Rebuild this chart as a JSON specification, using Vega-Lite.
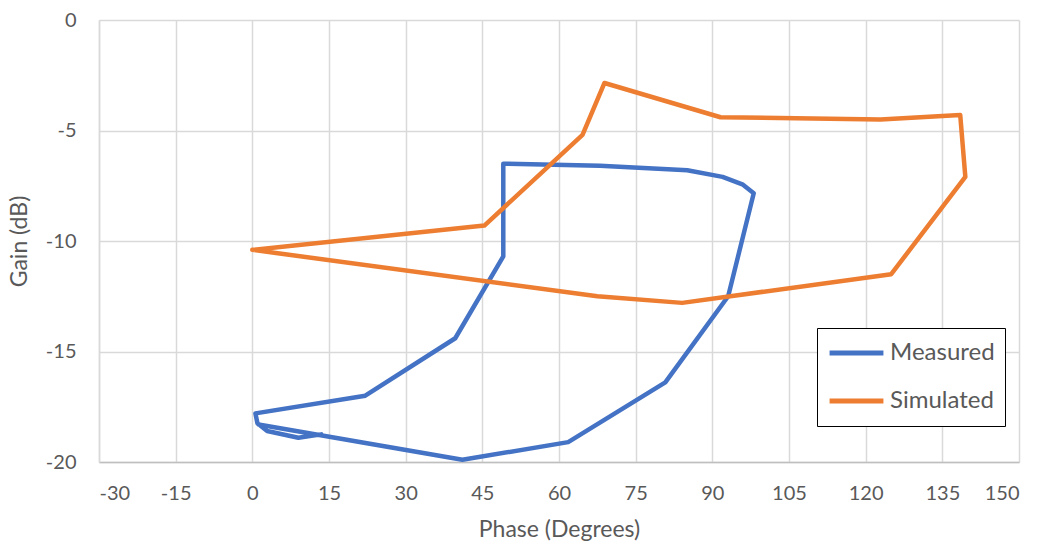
{
  "$schema": "https://vega.github.io/schema/vega-lite/v6.json",
  "autosize": "none",
  "width": 920,
  "height": 442,
  "padding": {"left": 99, "top": 20, "right": 22, "bottom": 83},
  "background": "white",
  "config": {
    "font": "Lato",
    "view": {"stroke": null}
  },
  "data": {
    "values": [
      {"series": "Measured", "i": 0, "phase": 13.5, "gain": -18.75},
      {"series": "Measured", "i": 1, "phase": 9, "gain": -18.9},
      {"series": "Measured", "i": 2, "phase": 2.9, "gain": -18.6},
      {"series": "Measured", "i": 3, "phase": 1.0, "gain": -18.25},
      {"series": "Measured", "i": 4, "phase": 0.6, "gain": -17.8},
      {"series": "Measured", "i": 5, "phase": 22.1, "gain": -17.0},
      {"series": "Measured", "i": 6, "phase": 39.7, "gain": -14.4},
      {"series": "Measured", "i": 7, "phase": 49.1, "gain": -10.7},
      {"series": "Measured", "i": 8, "phase": 49.1, "gain": -6.5},
      {"series": "Measured", "i": 9, "phase": 68, "gain": -6.6},
      {"series": "Measured", "i": 10, "phase": 85.1, "gain": -6.8},
      {"series": "Measured", "i": 11, "phase": 92.0, "gain": -7.1},
      {"series": "Measured", "i": 12, "phase": 96.0, "gain": -7.45},
      {"series": "Measured", "i": 13, "phase": 98.1, "gain": -7.84},
      {"series": "Measured", "i": 14, "phase": 93.1, "gain": -12.5},
      {"series": "Measured", "i": 15, "phase": 80.8, "gain": -16.4},
      {"series": "Measured", "i": 16, "phase": 61.8, "gain": -19.1},
      {"series": "Measured", "i": 17, "phase": 41.1, "gain": -19.9},
      {"series": "Measured", "i": 18, "phase": 1.2, "gain": -18.3},
      {"series": "Simulated", "i": 0, "phase": 0, "gain": -10.4},
      {"series": "Simulated", "i": 1, "phase": 45.4, "gain": -9.3},
      {"series": "Simulated", "i": 2, "phase": 64.6, "gain": -5.2},
      {"series": "Simulated", "i": 3, "phase": 68.9, "gain": -2.85},
      {"series": "Simulated", "i": 4, "phase": 91.6, "gain": -4.4},
      {"series": "Simulated", "i": 5, "phase": 122.9, "gain": -4.5},
      {"series": "Simulated", "i": 6, "phase": 138.5, "gain": -4.3},
      {"series": "Simulated", "i": 7, "phase": 139.5, "gain": -7.1},
      {"series": "Simulated", "i": 8, "phase": 125.0, "gain": -11.5},
      {"series": "Simulated", "i": 9, "phase": 84.1, "gain": -12.8},
      {"series": "Simulated", "i": 10, "phase": 67.5, "gain": -12.5},
      {"series": "Simulated", "i": 11, "phase": 0, "gain": -10.4}
    ]
  },
  "mark": {"type": "line", "strokeWidth": 4.5, "strokeJoin": "round", "strokeCap": "round"},
  "encoding": {
    "x": {
      "field": "phase", "type": "quantitative",
      "scale": {"domain": [-30, 150], "nice": false, "zero": false},
      "axis": {
        "title": "Phase (Degrees)", "values": [-30, -15, 0, 15, 30, 45, 60, 75, 90, 105, 120, 135, 150],
        "labelExpr": "'' + datum.value",
        "ticks": false, "labelPadding": 21, "labelFontSize": 20, "labelColor": "#595959",
        "titleFontSize": 23, "titleFontWeight": "normal", "titleColor": "#595959", "titlePadding": 15,
        "gridColor": "#d9d9d9", "gridWidth": 1.5, "domainColor": "#bfbfbf", "domainWidth": 1.5
      }
    },
    "y": {
      "field": "gain", "type": "quantitative",
      "scale": {"domain": [-20, 0], "nice": false, "zero": false},
      "axis": {
        "title": "Gain (dB)", "values": [-20, -15, -10, -5, 0],
        "labelExpr": "'' + datum.value",
        "ticks": false, "labelPadding": 23, "labelFontSize": 20, "labelColor": "#595959",
        "titleFontSize": 23, "titleFontWeight": "normal", "titleColor": "#595959", "titlePadding": 14,
        "gridColor": "#d9d9d9", "gridWidth": 1.5, "domainColor": "#d9d9d9", "domainWidth": 1.5
      }
    },
    "color": {
      "field": "series", "type": "nominal",
      "scale": {"domain": ["Measured", "Simulated"], "range": ["#4472C4", "#ED7D31"]},
      "legend": {
        "title": null, "orient": "none", "legendX": 718, "legendY": 308,
        "symbolType": "stroke", "symbolSize": 2900, "symbolStrokeWidth": 5,
        "clipHeight": 30,
        "labelFontSize": 24, "labelColor": "#595959", "labelOffset": 4,
        "strokeColor": "black", "padding": 10, "rowPadding": 18,
        "fillColor": "white"
      }
    },
    "order": {"field": "i", "type": "quantitative"}
  }
}
